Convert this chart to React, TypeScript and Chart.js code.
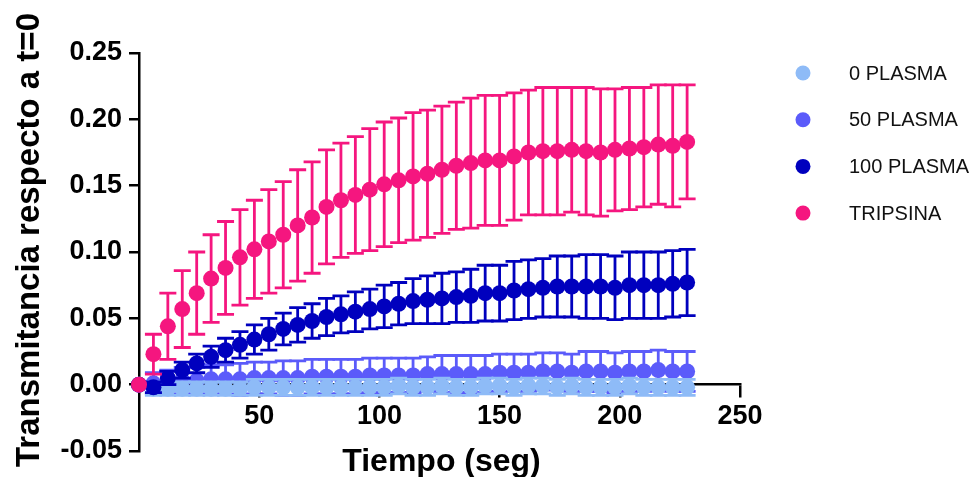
import React, { useEffect, useRef } from 'react';
import { Chart, registerables } from 'chart.js';

Chart.register(...registerables);

const FONT = 'Arial, "Liberation Sans", Helvetica, sans-serif';

// Time points (s)
const times = [0, 6, 12, 18, 24, 30, 36, 42, 48, 54, 60, 66, 72, 78, 84, 90, 96, 102, 108, 114, 120, 126, 132, 138, 144, 150, 156, 162, 168, 174, 180, 186, 192, 198, 204, 210, 216, 222, 228];

const seriesLabels = ['0 PLASMA', '50 PLASMA', '100 PLASMA', 'TRIPSINA'];
const seriesColors = ['#8EBBF7', '#5B5BFA', '#0000BE', '#F5167F'];

const plasma0 = [0, -0.003, -0.003, -0.003, -0.003, -0.003, -0.003, -0.003, -0.002, -0.002, -0.002, -0.002, -0.002, -0.002, -0.002, -0.002, -0.002, -0.002, -0.001, -0.002, -0.002, -0.001, -0.002, -0.002, -0.001, -0.001, -0.002, -0.001, -0.001, -0.002, -0.001, -0.002, -0.002, -0.002, -0.001, -0.002, -0.002, -0.002, -0.002];
const plasma0Err = [0, 0.005, 0.005, 0.005, 0.005, 0.005, 0.005, 0.005, 0.006, 0.006, 0.006, 0.006, 0.006, 0.006, 0.006, 0.006, 0.006, 0.006, 0.006, 0.006, 0.006, 0.006, 0.006, 0.006, 0.006, 0.006, 0.006, 0.006, 0.006, 0.006, 0.006, 0.006, 0.006, 0.006, 0.006, 0.006, 0.006, 0.006, 0.006];

const plasma50 = [0, 0.001, 0.002, 0.003, 0.003, 0.004, 0.004, 0.004, 0.005, 0.005, 0.005, 0.005, 0.006, 0.006, 0.006, 0.006, 0.007, 0.007, 0.007, 0.007, 0.008, 0.008, 0.008, 0.008, 0.008, 0.009, 0.009, 0.009, 0.01, 0.01, 0.009, 0.01, 0.01, 0.009, 0.01, 0.01, 0.011, 0.01, 0.01];
const plasma50Err = [0, 0.008, 0.009, 0.01, 0.01, 0.011, 0.011, 0.012, 0.012, 0.012, 0.013, 0.013, 0.013, 0.013, 0.013, 0.013, 0.013, 0.013, 0.013, 0.013, 0.013, 0.014, 0.014, 0.014, 0.014, 0.014, 0.014, 0.014, 0.014, 0.014, 0.014, 0.015, 0.015, 0.015, 0.015, 0.015, 0.015, 0.015, 0.015];

const plasma100 = [0, -0.002, 0.005, 0.011, 0.016, 0.021, 0.026, 0.03, 0.034, 0.038, 0.042, 0.045, 0.048, 0.051, 0.053, 0.055, 0.057, 0.059, 0.061, 0.063, 0.064, 0.065, 0.066, 0.067, 0.069, 0.069, 0.071, 0.072, 0.073, 0.074, 0.074, 0.074, 0.074, 0.073, 0.075, 0.075, 0.075, 0.076, 0.077];
const plasma100Err = [0, 0.004, 0.005, 0.006, 0.007, 0.008, 0.009, 0.01, 0.011, 0.012, 0.012, 0.013, 0.013, 0.014, 0.014, 0.015, 0.015, 0.016, 0.016, 0.017, 0.018, 0.019, 0.019, 0.02, 0.021, 0.021, 0.022, 0.022, 0.022, 0.023, 0.023, 0.024, 0.024, 0.024, 0.025, 0.025, 0.025, 0.025, 0.025];

const tripsina = [0, 0.023, 0.044, 0.057, 0.069, 0.08, 0.088, 0.096, 0.102, 0.108, 0.113, 0.12, 0.126, 0.134, 0.139, 0.143, 0.147, 0.151, 0.154, 0.157, 0.159, 0.162, 0.165, 0.167, 0.169, 0.169, 0.172, 0.175, 0.176, 0.176, 0.177, 0.176, 0.175, 0.177, 0.178, 0.179, 0.181, 0.18, 0.183];
const tripsinaErr = [0, 0.015, 0.025, 0.029, 0.031, 0.033, 0.035, 0.036, 0.037, 0.039, 0.04, 0.042, 0.042, 0.043, 0.043, 0.044, 0.046, 0.047, 0.047, 0.048, 0.048, 0.048, 0.048, 0.049, 0.049, 0.049, 0.048, 0.047, 0.048, 0.048, 0.047, 0.048, 0.048, 0.046, 0.046, 0.045, 0.045, 0.046, 0.043];

const seriesValues = [plasma0, plasma50, plasma100, tripsina];
const seriesErrors = [plasma0Err, plasma50Err, plasma100Err, tripsinaErr];
const drawOrder = [2, 3, 1, 0]; // lower = drawn on top

const xTicks = [50, 100, 150, 200, 250];
const xTitle = 'Tiempo (seg)';
const yTitle = 'Transmitancia respecto a t=0';

const errorBarPlugin = {
  id: 'errorBars',
  beforeDatasetDraw(chart: any, args: any) {
    const i = args.index;
    const errs = seriesErrors[i];
    const ds = chart.data.datasets[i];
    if (!errs) return;
    const xs = chart.scales.x;
    const ys = chart.scales.y;
    const ctx = chart.ctx;
    ctx.save();
    ctx.strokeStyle = ds.backgroundColor;
    ctx.lineWidth = 2.8;
    const cap = 8.5;
    ds.data.forEach((p: any, k: number) => {
      const e = errs[k];
      if (!e) return;
      const px = xs.getPixelForValue(p.x);
      const top = ys.getPixelForValue(p.y + e);
      const bot = ys.getPixelForValue(p.y - e);
      ctx.beginPath();
      ctx.moveTo(px, top);
      ctx.lineTo(px, bot);
      ctx.moveTo(px - cap, top);
      ctx.lineTo(px + cap, top);
      ctx.moveTo(px - cap, bot);
      ctx.lineTo(px + cap, bot);
      ctx.stroke();
    });
    ctx.restore();
  },
};

const decorPlugin = {
  id: 'decor',
  afterDraw(chart: any) {
    const ctx = chart.ctx;
    const ca = chart.chartArea;
    ctx.save();
    // axis titles
    ctx.fillStyle = '#000';
    ctx.textAlign = 'center';
    ctx.textBaseline = 'alphabetic';
    ctx.font = `bold 32px ${FONT}`;
    ctx.fillText(xTitle, (ca.left + ca.right) / 2 + 2, 471);
    ctx.save();
    ctx.translate(39, 240);
    ctx.rotate(-Math.PI / 2);
    ctx.font = `bold 33px ${FONT}`;
    ctx.fillText(yTitle, 0, 0);
    ctx.restore();
    // legend
    const legX = 803;
    const legY0 = 73;
    const legStep = 46.7;
    ctx.font = `20px ${FONT}`;
    ctx.textAlign = 'left';
    ctx.textBaseline = 'middle';
    seriesLabels.forEach((lab, i) => {
      const y = legY0 + i * legStep;
      ctx.fillStyle = seriesColors[i];
      ctx.beginPath();
      ctx.arc(legX, y, 7.5, 0, Math.PI * 2);
      ctx.fill();
      ctx.fillStyle = '#111';
      ctx.fillText(lab, 849, y + 1);
    });
    ctx.restore();
  },
};

export default function App() {
  const ref = useRef<HTMLCanvasElement | null>(null);
  useEffect(() => {
    if (!ref.current) return;
    const datasets = seriesLabels.map((label, i) => ({
      label,
      data: times.map((t, k) => ({ x: t, y: seriesValues[i][k] })),
      backgroundColor: seriesColors[i],
      borderColor: seriesColors[i],
      pointBackgroundColor: seriesColors[i],
      pointRadius: 8,
      pointHoverRadius: 8,
      pointBorderWidth: 0,
      pointStyle: 'circle',
      showLine: false,
      clip: false,
      order: drawOrder[i],
    }));
    const tickFont = { family: FONT, size: 27, weight: 'bold' as const };
    const chart = new Chart(ref.current, {
      type: 'line',
      data: { datasets },
      plugins: [errorBarPlugin, decorPlugin],
      options: {
        animation: false,
        responsive: false,
        devicePixelRatio: 1,
        events: [],
        layout: { padding: { left: 60, right: 239, top: 53, bottom: 26 } },
        plugins: {
          legend: { display: false },
          tooltip: { enabled: false },
          title: { display: false },
        },
        scales: {
          x: {
            type: 'linear',
            position: { y: 0 } as any,
            min: 0,
            max: 250,
            afterBuildTicks: (s: any) => {
              s.ticks = xTicks.map((v) => ({ value: v }));
            },
            afterFit: (s: any) => {
              s.height = 0;
            },
            ticks: {
              font: tickFont,
              color: '#000',
              padding: 4,
              maxRotation: 0,
              autoSkip: false,
            },
            grid: {
              drawOnChartArea: false,
              drawTicks: true,
              tickLength: 12,
              tickWidth: 2.5,
              tickColor: '#000',
              color: '#000',
              lineWidth: 2.5,
            },
            border: { display: true, color: '#000', width: 2.5 },
            title: { display: false },
          },
          y: {
            type: 'linear',
            position: 'left',
            min: -0.05,
            max: 0.25,
            afterFit: (s: any) => {
              s.width = 79;
            },
            ticks: {
              stepSize: 0.05,
              font: tickFont,
              color: '#000',
              padding: 7,
              callback: (v: any) => {
                const n = Number(v);
                return (Math.abs(n) < 1e-9 ? 0 : n).toFixed(2);
              },
            },
            grid: {
              drawOnChartArea: false,
              drawTicks: true,
              tickLength: 10,
              tickWidth: 2.5,
              tickColor: '#000',
              color: '#000',
              lineWidth: 2.5,
            },
            border: { display: true, color: '#000', width: 2.5 },
            title: { display: false },
          },
        },
      } as any,
    });
    return () => chart.destroy();
  }, []);
  return (
    <div style={{ position: 'fixed', left: 0, top: 0, width: 979, height: 477, background: '#fff' }}>
      <canvas ref={ref} width={979} height={477} />
    </div>
  );
}
